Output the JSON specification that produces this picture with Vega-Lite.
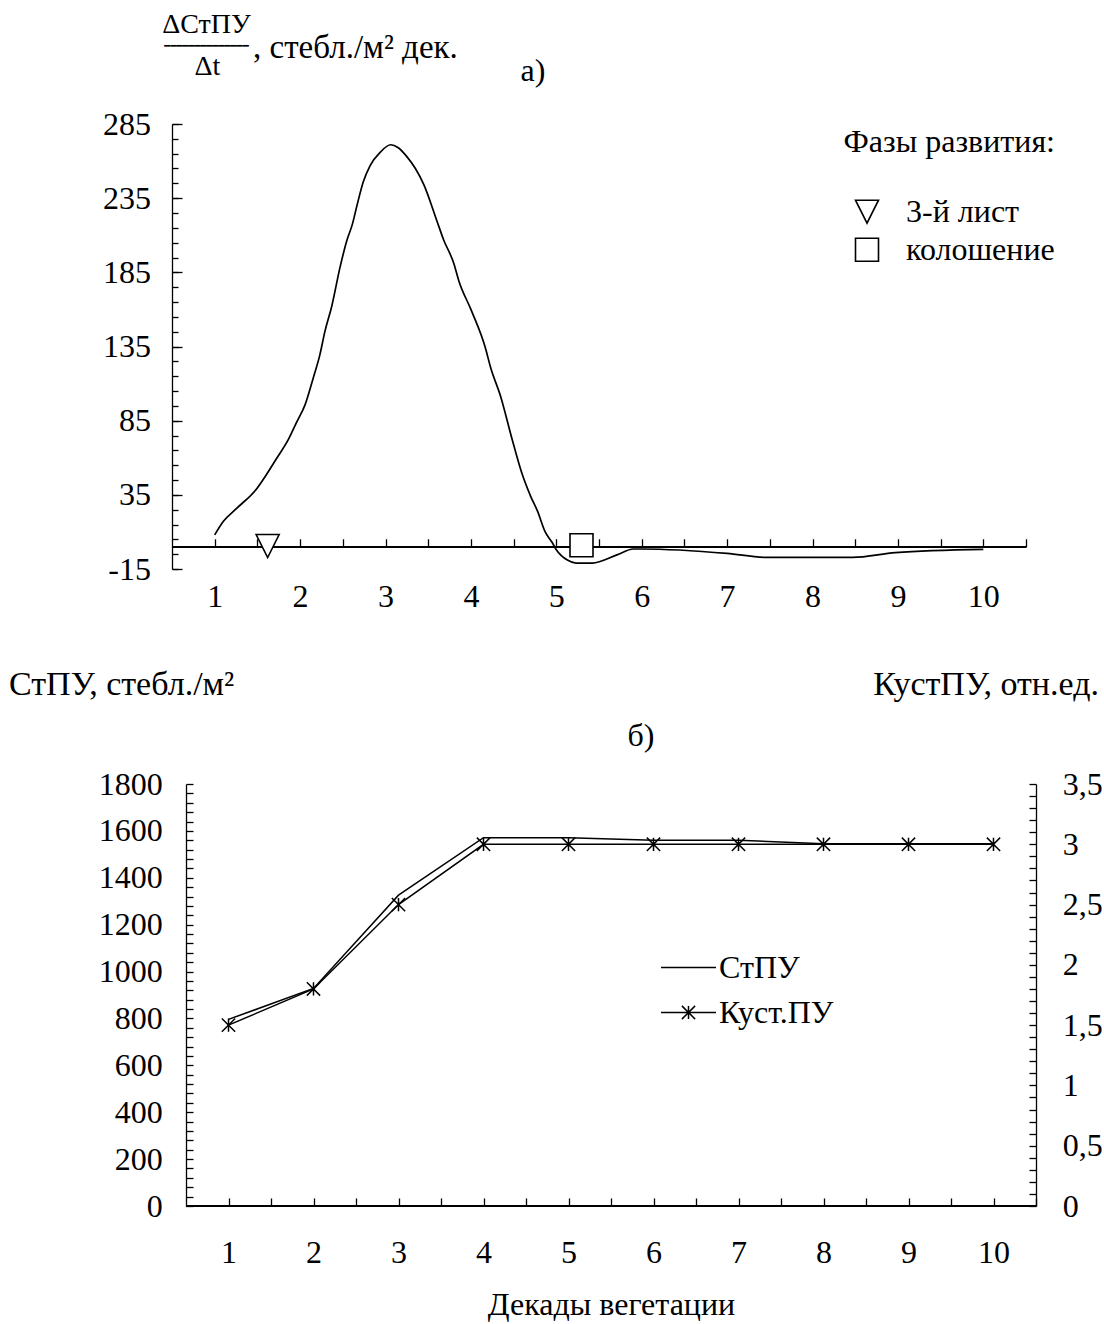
{
  "$schema": "https://vega.github.io/schema/vega-lite/v6.json",
  "background": "white",
  "padding": {"left": 8, "top": 10, "right": 4, "bottom": 4},
  "spacing": 54,
  "config": {
    "view": {"stroke": null},
    "font": "Liberation Serif",
    "axis": {
      "labelFont": "Liberation Serif", "titleFont": "Liberation Serif",
      "labelFontSize": 32, "titleFontSize": 32, "titleFontWeight": "normal",
      "labelColor": "black", "titleColor": "black",
      "domainColor": "black", "tickColor": "black",
      "domainWidth": 1.3, "tickWidth": 1.3, "grid": false,
      "labelOverlap": false, "labelFlush": false, "labelBound": false,
      "titleLimit": 600, "tickCount": 200
    },
    "legend": {
      "labelFont": "Liberation Serif", "titleFont": "Liberation Serif",
      "labelFontSize": 32, "titleFontSize": 32, "titleFontWeight": "normal",
      "labelColor": "black", "titleColor": "black", "padding": 0,
      "labelLimit": 400, "titleLimit": 400
    }
  },
  "datasets": {
    "curve": [
      {"decade": 1.0, "rate": 8}, {"decade": 1.1, "rate": 17}, {"decade": 1.26, "rate": 26},
      {"decade": 1.49, "rate": 39}, {"decade": 1.61, "rate": 49}, {"decade": 1.73, "rate": 60},
      {"decade": 1.86, "rate": 72}, {"decade": 1.96, "rate": 84}, {"decade": 2.06, "rate": 96},
      {"decade": 2.16, "rate": 115}, {"decade": 2.23, "rate": 129}, {"decade": 2.29, "rate": 145},
      {"decade": 2.37, "rate": 162}, {"decade": 2.47, "rate": 189}, {"decade": 2.55, "rate": 207},
      {"decade": 2.61, "rate": 217}, {"decade": 2.67, "rate": 231}, {"decade": 2.74, "rate": 246},
      {"decade": 2.82, "rate": 257}, {"decade": 2.94, "rate": 266}, {"decade": 3.06, "rate": 271},
      {"decade": 3.15, "rate": 269}, {"decade": 3.25, "rate": 263}, {"decade": 3.35, "rate": 255},
      {"decade": 3.45, "rate": 244}, {"decade": 3.6, "rate": 220}, {"decade": 3.68, "rate": 207},
      {"decade": 3.8, "rate": 191}, {"decade": 3.86, "rate": 179}, {"decade": 4.0, "rate": 160},
      {"decade": 4.17, "rate": 134}, {"decade": 4.23, "rate": 121}, {"decade": 4.35, "rate": 101},
      {"decade": 4.48, "rate": 73}, {"decade": 4.6, "rate": 49}, {"decade": 4.7, "rate": 34},
      {"decade": 4.78, "rate": 24}, {"decade": 4.87, "rate": 10}, {"decade": 4.95, "rate": 3},
      {"decade": 5.0, "rate": -2}, {"decade": 5.13, "rate": -9}, {"decade": 5.23, "rate": -11},
      {"decade": 5.42, "rate": -11}, {"decade": 5.71, "rate": -5.5}, {"decade": 5.9, "rate": -1.5},
      {"decade": 6.0, "rate": -1.5}, {"decade": 7.0, "rate": -4.5}, {"decade": 7.47, "rate": -7.2},
      {"decade": 8.47, "rate": -7.2}, {"decade": 8.97, "rate": -4}, {"decade": 10.0, "rate": -1.8}
    ],
    "phases": [
      {"decade": 1.62, "rate": 0.5, "phase": "3-й лист"},
      {"decade": 5.295, "rate": 1, "phase": "колошение"}
    ],
    "stems": [
      {"decade": 1, "value": 796, "series": "СтПУ"}, {"decade": 2, "value": 928, "series": "СтПУ"},
      {"decade": 3, "value": 1326, "series": "СтПУ"}, {"decade": 4, "value": 1571, "series": "СтПУ"},
      {"decade": 5, "value": 1571, "series": "СтПУ"}, {"decade": 6, "value": 1560, "series": "СтПУ"},
      {"decade": 7, "value": 1560, "series": "СтПУ"}, {"decade": 8, "value": 1545, "series": "СтПУ"},
      {"decade": 9, "value": 1545, "series": "СтПУ"}, {"decade": 10, "value": 1545, "series": "СтПУ"}
    ],
    "kust": [
      {"decade": 1, "value": 1.5, "series": "Куст.ПУ"}, {"decade": 2, "value": 1.8, "series": "Куст.ПУ"},
      {"decade": 3, "value": 2.5, "series": "Куст.ПУ"}, {"decade": 4, "value": 3, "series": "Куст.ПУ"},
      {"decade": 5, "value": 3, "series": "Куст.ПУ"}, {"decade": 6, "value": 3, "series": "Куст.ПУ"},
      {"decade": 7, "value": 3, "series": "Куст.ПУ"}, {"decade": 8, "value": 3, "series": "Куст.ПУ"},
      {"decade": 9, "value": 3, "series": "Куст.ПУ"}, {"decade": 10, "value": 3, "series": "Куст.ПУ"}
    ]
  },
  "vconcat": [
    {
      "width": 854,
      "height": 445,
      "resolve": {"axis": {"y": "independent"}},
      "layer": [
        {
          "data": {"name": "curve"},
          "mark": {"type": "line", "interpolate": "monotone", "color": "black", "strokeWidth": 1.7},
          "encoding": {
            "x": {
              "field": "decade", "type": "quantitative",
              "scale": {"domain": [0.5, 10.5], "nice": false, "zero": false},
              "axis": {
                "orient": "bottom", "offset": -22.25, "tickCount": 200,
                "values": [1, 1.5, 2, 2.5, 3, 3.5, 4, 4.5, 5, 5.5, 6, 6.5, 7, 7.5, 8, 8.5, 9, 9.5, 10, 10.5],
                "labelExpr": "datum.value % 1 == 0 ? format(datum.value, 'd') : ''",
                "tickSize": -8, "labelPadding": 42.5,
                "title": "а)", "titleX": 360.5, "titleY": -466.75,
                "titleAlign": "center", "titleBaseline": "alphabetic"
              }
            },
            "y": {
              "field": "rate", "type": "quantitative",
              "scale": {"domain": [-15, 285], "nice": false, "zero": false},
              "axis": {
                "orient": "left", "tickCount": 200,
                "values": [-15, -5, 5, 15, 25, 35, 45, 55, 65, 75, 85, 95, 105, 115, 125, 135, 145, 155, 165, 175, 185, 195, 205, 215, 225, 235, 245, 255, 265, 275, 285],
                "labels": false, "tickSize": -6,
                "title": "ΔСтПУ", "titleFontSize": 28,
                "titleAngle": 0, "titleAlign": "center", "titleBaseline": "alphabetic",
                "titleX": 34, "titleY": -92
              }
            }
          }
        },
        {
          "data": {"name": "curve"},
          "mark": {"type": "rule", "color": "black", "strokeWidth": 1.3},
          "encoding": {
            "x": {"datum": 0.5, "type": "quantitative"},
            "x2": {"datum": 10.5},
            "y": {
              "datum": 0, "type": "quantitative",
              "axis": {
                "orient": "left", "domain": false, "ticks": false, "labels": false,
                "title": "Δt", "titleFontSize": 28,
                "titleAngle": 0, "titleAlign": "center", "titleBaseline": "alphabetic",
                "titleX": 35, "titleY": -50
              }
            }
          }
        },
        {
          "data": {"name": "curve"},
          "mark": {"type": "rule", "color": "black", "strokeWidth": 1.3},
          "encoding": {
            "x": {"datum": 0.5, "type": "quantitative"},
            "x2": {"datum": 10.5},
            "y": {
              "datum": 0, "type": "quantitative",
              "axis": {
                "orient": "left", "domain": false, "ticks": false, "labels": false,
                "title": "━━━━━━━━━━━━━━", "titleFont": "DejaVu Sans Mono", "titleFontSize": 10,
                "titleAngle": 0, "titleAlign": "center", "titleBaseline": "alphabetic",
                "titleX": 34, "titleY": -75.5
              }
            }
          }
        },
        {
          "data": {"name": "phases"},
          "mark": {"type": "point", "filled": false, "fill": "white", "fillOpacity": 1, "color": "black", "strokeWidth": 1.6, "size": 529},
          "encoding": {
            "x": {"field": "decade", "type": "quantitative"},
            "y": {
              "field": "rate", "type": "quantitative",
              "axis": {
                "orient": "left", "domain": false, "tickCount": 200,
                "values": [-15, 35, 85, 135, 185, 235, 285],
                "labelExpr": "replace(datum.label, '\u2212', '-')",
                "tickSize": -10, "labelPadding": 31.5,
                "title": ", стебл./м² дек.", "titleFontSize": 33,
                "titleAngle": 0, "titleAlign": "left", "titleBaseline": "alphabetic",
                "titleX": 80.5, "titleY": -67
              }
            },
            "shape": {
              "field": "phase", "type": "nominal",
              "scale": {"domain": ["3-й лист", "колошение"], "range": ["M-1,-1L1,-1L0,1Z", "square"]},
              "legend": {
                "orient": "none", "legendX": 672, "legendY": 2.7,
                "title": "Фазы развития:", "titlePadding": 37, "titleAnchor": "end",
                "symbolSize": 529, "labelOffset": 23,
                "rowPadding": 6, "symbolStrokeWidth": 1.6
              }
            }
          }
        }
      ]
    },
    {
      "width": 864,
      "height": 422,
      "resolve": {"scale": {"y": "independent"}, "axis": {"y": "independent"}},
      "layer": [
        {
          "resolve": {"axis": {"y": "independent"}},
          "layer": [
            {
              "data": {"name": "stems"},
              "mark": {"type": "line", "color": "black", "strokeWidth": 1.5},
              "encoding": {
                "x": {
                  "field": "decade", "type": "quantitative",
                  "scale": {"domain": [0.5, 10.5], "range": [14, 864], "nice": false, "zero": false},
                  "axis": {
                    "orient": "bottom", "domain": false, "tickCount": 200,
                    "values": [1, 1.5, 2, 2.5, 3, 3.5, 4, 4.5, 5, 5.5, 6, 6.5, 7, 7.5, 8, 8.5, 9, 9.5, 10, 10.5],
                    "labelExpr": "datum.value % 1 == 0 ? format(datum.value, 'd') : ''",
                    "tickSize": -8, "labelPadding": 39.3,
                    "title": "Декады вегетации", "titleX": 439, "titleY": 108,
                    "titleAlign": "center", "titleBaseline": "alphabetic"
                  }
                },
                "y": {
                  "field": "value", "type": "quantitative",
                  "scale": {"domain": [0, 1800], "nice": false, "zero": false},
                  "axis": {
                    "orient": "left", "offset": -14, "tickCount": 200,
                    "values": [0, 40, 80, 120, 160, 200, 240, 280, 320, 360, 400, 440, 480, 520, 560, 600, 640, 680, 720, 760, 800, 840, 880, 920, 960, 1000, 1040, 1080, 1120, 1160, 1200, 1240, 1280, 1320, 1360, 1400, 1440, 1480, 1520, 1560, 1600, 1640, 1680, 1720, 1760, 1800],
                    "labelExpr": "datum.value % 200 == 0 ? format(datum.value, 'd') : ''",
                    "tickSize": -7, "labelPadding": 30.8,
                    "title": "СтПУ, стебл./м²", "titleFontSize": 34,
                    "titleAngle": 0, "titleAlign": "left", "titleBaseline": "alphabetic",
                    "titleX": -177.5, "titleY": -89.7
                  }
                },
                "color": {
                  "field": "series", "type": "nominal",
                  "scale": {"domain": ["СтПУ", "Куст.ПУ"], "range": ["black", "black"]},
                  "legend": {
                    "orient": "none", "legendX": 488, "legendY": 815,
                    "title": null, "symbolSize": 3025, "labelOffset": 2, "rowPadding": -9.5,
                    "symbolStrokeWidth": 1.5,
                    "encode": {
                      "symbols": {
                        "update": {
                          "shape": {"signal": "datum.value === 'Куст.ПУ' ? 'M-1,0L1,0M-0.24,-0.24L0.24,0.24M-0.24,0.24L0.24,-0.24M0,-0.24L0,0.24' : 'M-1,0L1,0'"},
                          "fill": {"value": "transparent"},
                          "stroke": {"value": "black"},
                          "strokeWidth": {"value": 1.5}
                        }
                      }
                    }
                  }
                }
              }
            },
            {
              "data": {"name": "stems"},
              "mark": {"type": "rule", "color": "black", "strokeWidth": 1.3},
              "encoding": {
                "x": {"datum": 0.5, "type": "quantitative"},
                "x2": {"datum": 10.5},
                "y": {
                  "datum": 0, "type": "quantitative",
                  "axis": {
                    "orient": "left", "offset": -14, "domain": false, "ticks": false, "labels": false,
                    "title": "б)",
                    "titleAngle": 0, "titleAlign": "center", "titleBaseline": "alphabetic",
                    "titleX": 454.5, "titleY": -39
                  }
                }
              }
            }
          ]
        },
        {
          "layer": [
            {
              "data": {"name": "kust"},
              "mark": {"type": "line", "color": "black", "strokeWidth": 1.5},
              "encoding": {
                "x": {"field": "decade", "type": "quantitative"},
                "y": {
                  "field": "value", "type": "quantitative",
                  "scale": {"domain": [0, 3.5], "nice": false, "zero": false},
                  "axis": {
                    "orient": "right", "tickCount": 200,
                    "values": [0, 0.1, 0.2, 0.3, 0.4, 0.5, 0.6, 0.7, 0.8, 0.9, 1, 1.1, 1.2, 1.3, 1.4, 1.5, 1.6, 1.7, 1.8, 1.9, 2, 2.1, 2.2, 2.3, 2.4, 2.5, 2.6, 2.7, 2.8, 2.9, 3, 3.1, 3.2, 3.3, 3.4, 3.5],
                    "labelExpr": "abs(datum.value * 2 - round(datum.value * 2)) < 0.000001 ? replace(format(datum.value, '~g'), '.', ',') : ''",
                    "tickSize": -7, "labelPadding": 33.2,
                    "title": "КустПУ, отн.ед.", "titleFontSize": 34,
                    "titleAngle": 0, "titleAlign": "right", "titleBaseline": "alphabetic",
                    "titleX": 62.5, "titleY": -89.7
                  }
                },
                "color": {"field": "series", "type": "nominal"}
              }
            },
            {
              "data": {"name": "kust"},
              "mark": {"type": "point", "shape": "M-1,-1L1,1M-1,1L1,-1M0,-1L0,1", "filled": false, "stroke": "black", "strokeWidth": 1.5, "size": 177, "opacity": 1},
              "encoding": {
                "x": {"field": "decade", "type": "quantitative"},
                "y": {"field": "value", "type": "quantitative"}
              }
            }
          ]
        }
      ]
    }
  ]
}
